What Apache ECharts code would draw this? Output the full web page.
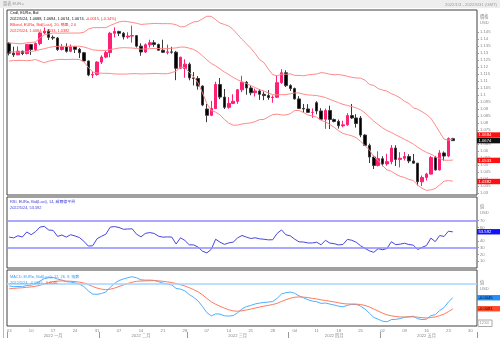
<!DOCTYPE html>
<html>
<head>
<meta charset="utf-8">
<title>EUR= 圖表</title>
<script src="https://cdn.jsdelivr.net/npm/echarts@6.0.0/dist/echarts.min.js"></script>
<style>
html,body{margin:0;padding:0;background:#fff;}
#chart{width:500px;height:340px;}
</style>
</head>
<body>
<div id="chart"></div>
<script>
// Weekday sessions on the category axis, 2022/1/3 - 2022/5/31
const sessionDates = [
  '2022/1/3','2022/1/4','2022/1/5','2022/1/6','2022/1/7','2022/1/10','2022/1/11','2022/1/12','2022/1/13','2022/1/14',
  '2022/1/17','2022/1/18','2022/1/19','2022/1/20','2022/1/21','2022/1/24','2022/1/25','2022/1/26','2022/1/27','2022/1/28','2022/1/31',
  '2022/2/1','2022/2/2','2022/2/3','2022/2/4','2022/2/7','2022/2/8','2022/2/9','2022/2/10','2022/2/11','2022/2/14',
  '2022/2/15','2022/2/16','2022/2/17','2022/2/18','2022/2/21','2022/2/22','2022/2/23','2022/2/24','2022/2/25','2022/2/28',
  '2022/3/1','2022/3/2','2022/3/3','2022/3/4','2022/3/7','2022/3/8','2022/3/9','2022/3/10','2022/3/11','2022/3/14',
  '2022/3/15','2022/3/16','2022/3/17','2022/3/18','2022/3/21','2022/3/22','2022/3/23','2022/3/24','2022/3/25','2022/3/28',
  '2022/3/29','2022/3/30','2022/3/31',
  '2022/4/1','2022/4/4','2022/4/5','2022/4/6','2022/4/7','2022/4/8','2022/4/11','2022/4/12','2022/4/13','2022/4/14',
  '2022/4/15','2022/4/18','2022/4/19','2022/4/20','2022/4/21','2022/4/22','2022/4/25','2022/4/26','2022/4/27','2022/4/28','2022/4/29',
  '2022/5/2','2022/5/3','2022/5/4','2022/5/5','2022/5/6','2022/5/9','2022/5/10','2022/5/11','2022/5/12','2022/5/13',
  '2022/5/16','2022/5/17','2022/5/18','2022/5/19','2022/5/20','2022/5/23','2022/5/24','2022/5/25','2022/5/26','2022/5/27',
  '2022/5/30','2022/5/31'
];

// Daily EUR= bid bars [open, high, low, close], 2022/1/3 - 2022/5/24
const dailyBars = [
  [1.1370,1.1376,1.1283,1.1299],[1.1299,1.1345,1.1272,1.1287],[1.1287,1.1347,1.1286,1.1313],[1.1313,1.1317,1.1285,1.1296],
  [1.1296,1.1364,1.1290,1.1360],[1.1360,1.1365,1.1286,1.1325],[1.1325,1.1376,1.1313,1.1367],[1.1367,1.1449,1.1355,1.1443],
  [1.1443,1.1482,1.1437,1.1456],[1.1456,1.1470,1.1393,1.1412],[1.1412,1.1426,1.1394,1.1407],[1.1407,1.1414,1.1315,1.1325],
  [1.1325,1.1365,1.1318,1.1343],[1.1343,1.1369,1.1303,1.1312],[1.1312,1.1361,1.1306,1.1344],[1.1344,1.1348,1.1300,1.1326],
  [1.1326,1.1336,1.1264,1.1302],[1.1302,1.1308,1.1236,1.1243],[1.1243,1.1246,1.1134,1.1143],[1.1143,1.1167,1.1121,1.1146],
  [1.1146,1.1241,1.1138,1.1235],
  [1.1235,1.1283,1.1221,1.1271],[1.1271,1.1316,1.1263,1.1303],[1.1303,1.1451,1.1269,1.1441],[1.1441,1.1483,1.1412,1.1454],
  [1.1454,1.1459,1.1421,1.1441],[1.1441,1.1450,1.1397,1.1415],[1.1415,1.1448,1.1402,1.1421],[1.1421,1.1495,1.1374,1.1424],
  [1.1424,1.1429,1.1339,1.1349],[1.1349,1.1369,1.1280,1.1307],[1.1307,1.1368,1.1300,1.1359],[1.1359,1.1395,1.1339,1.1373],
  [1.1373,1.1392,1.1344,1.1361],[1.1361,1.1367,1.1317,1.1320],[1.1320,1.1395,1.1302,1.1305],[1.1305,1.1360,1.1290,1.1308],
  [1.1308,1.1344,1.1295,1.1306],[1.1306,1.1315,1.1106,1.1191],[1.1191,1.1273,1.1186,1.1270],[1.1190,1.1255,1.1123,1.1220],
  [1.1220,1.1232,1.1105,1.1122],[1.1122,1.1164,1.1068,1.1118],[1.1118,1.1135,1.1038,1.1064],[1.1064,1.1068,1.0920,1.0929],
  [1.0900,1.0935,1.0806,1.0855],[1.0855,1.0958,1.0849,1.0903],[1.0903,1.1095,1.0900,1.1075],[1.1075,1.1121,1.0970,1.0985],
  [1.0985,1.1043,1.0900,1.0912],[1.0912,1.0985,1.0902,1.0940],[1.0940,1.1005,1.0935,1.0955],[1.0955,1.1043,1.0937,1.1037],
  [1.1037,1.1137,1.1020,1.1091],[1.1091,1.1100,1.1002,1.1050],[1.1050,1.1068,1.0998,1.1016],[1.1016,1.1046,1.0989,1.1029],
  [1.1029,1.1043,1.0965,1.1005],[1.1005,1.1025,1.0963,1.0996],[1.0996,1.1035,1.0966,1.0982],[1.0982,1.0997,1.0945,1.0984],
  [1.0984,1.1137,1.0980,1.1088],[1.1088,1.1184,1.1080,1.1159],[1.1159,1.1177,1.1057,1.1067],
  [1.1067,1.1077,1.1029,1.1046],[1.1046,1.1053,1.0968,1.0972],[1.0972,1.0992,1.0900,1.0904],[1.0904,1.0936,1.0874,1.0900],
  [1.0900,1.0935,1.0872,1.0876],[1.0876,1.0904,1.0837,1.0876],[1.0945,1.0956,1.0862,1.0886],[1.0886,1.0906,1.0822,1.0827],
  [1.0827,1.0903,1.0758,1.0889],[1.0889,1.0924,1.0757,1.0825],[1.0825,1.0832,1.0805,1.0811],[1.0811,1.0824,1.0760,1.0780],
  [1.0780,1.0816,1.0770,1.0787],[1.0787,1.0870,1.0781,1.0853],[1.0853,1.0936,1.0829,1.0836],[1.0836,1.0863,1.0767,1.0796],
  [1.0835,1.0850,1.0698,1.0714],[1.0714,1.0720,1.0636,1.0640],[1.0640,1.0653,1.0514,1.0557],[1.0557,1.0567,1.0471,1.0497],
  [1.0497,1.0598,1.0490,1.0545],
  [1.0545,1.0563,1.0491,1.0508],[1.0508,1.0580,1.0495,1.0524],[1.0524,1.0642,1.0505,1.0621],[1.0621,1.0641,1.0493,1.0540],
  [1.0540,1.0592,1.0483,1.0548],[1.0548,1.0593,1.0532,1.0561],[1.0561,1.0577,1.0513,1.0529],[1.0529,1.0579,1.0511,1.0513],
  [1.0513,1.0515,1.0354,1.0380],[1.0380,1.0425,1.0350,1.0411],[1.0411,1.0444,1.0389,1.0435],[1.0435,1.0563,1.0433,1.0553],
  [1.0553,1.0565,1.0460,1.0465],[1.0465,1.0606,1.0461,1.0586],[1.0586,1.0597,1.0531,1.0564],[1.0564,1.0697,1.0556,1.0689],
  [1.0688,1.0694,1.0674,1.0674]
];

// Closes of the sessions before 2022/1/3 (Nov-Dec 2021), only used to seed the studies
const seedCloses = [
  1.1607,1.1580,1.1610,1.1555,1.1568,1.1589,1.1592,1.1480,1.1446,1.1445,1.1368,1.1320,1.1318,1.1370,1.1290,
  1.1236,1.1234,1.1198,1.1209,1.1317,1.1291,1.1338,
  1.1320,1.1305,1.1316,1.1286,1.1266,1.1343,1.1292,1.1316,1.1285,1.1258,1.1288,1.1330,1.1239,1.1282,1.1283,
  1.1330,1.1326,1.1322,1.1327,1.1311,1.1349,1.1325,1.1370
];

// Axis tick values and labels
const priceTicks = [1.03,1.035,1.04,1.045,1.05,1.055,1.06,1.065,1.07,1.075,1.08,1.085,1.09,1.095,
  1.1,1.105,1.11,1.115,1.12,1.125,1.13,1.135,1.14,1.145];
const rsiTicks = [10, 20, 30, 40, 60, 70];
const rsiLevels = [70, 30];
const monthLabels = ['2022 一月', '2022 二月', '2022 三月', '2022 四月', '2022 五月'];

// Last study values shown in the legends and on the axis tags
const bandLast = [1.0684, 1.0533, 1.0382];
const rsiLast = 53.592;
const macdLast = [-0.0045, -0.0081];

const FONT = "'Liberation Sans','Noto Sans CJK TC',sans-serif";
const PINK = '#ff1f73';

// ---- studies computed from the closes ----
const closes = dailyBars.map(b => b[3]);
const allCloses = seedCloses.concat(closes);
const skip = seedCloses.length;

function bollinger(src, n, k) {
  const up = [], mid = [], low = [];
  for (let i = skip; i < src.length; i++) {
    const w = src.slice(i - n + 1, i + 1);
    const m = w.reduce((s, v) => s + v, 0) / n;
    const sd = Math.sqrt(w.reduce((s, v) => s + (v - m) * (v - m), 0) / n);
    up.push(m + k * sd); mid.push(m); low.push(m - k * sd);
  }
  return { up, mid, low };
}
function wilderRsi(src, n) {
  let ag = 0, al = 0;
  for (let i = 1; i <= n; i++) {
    const d = src[i] - src[i - 1];
    if (d > 0) ag += d; else al -= d;
  }
  ag /= n; al /= n;
  const out = [];
  for (let i = n + 1; i < src.length; i++) {
    const d = src[i] - src[i - 1];
    ag = (ag * (n - 1) + Math.max(d, 0)) / n;
    al = (al * (n - 1) + Math.max(-d, 0)) / n;
    out[i] = 100 - 100 / (1 + ag / al);
  }
  return out.slice(skip);
}
function ema(src, n) {
  const a = 2 / (n + 1), out = [src[0]];
  for (let i = 1; i < src.length; i++) out.push(out[i - 1] + a * (src[i] - out[i - 1]));
  return out;
}
const band = bollinger(allCloses, 20, 2);
const rsi = wilderRsi(allCloses, 14);
const e12 = ema(allCloses, 12), e26 = ema(allCloses, 26);
const macdAll = e12.map((v, i) => v - e26[i]);
const signalAll = ema(macdAll, 9);
const macd = macdAll.slice(skip), signal = signalAll.slice(skip);

// month boundaries for the lower date axis
const monthOf = d => +d.split('/')[1];
const monthStarts = sessionDates.map((d, i) => i === 0 || monthOf(d) !== monthOf(sessionDates[i - 1]) ? i : -1).filter(i => i >= 0);
const monthMids = monthStarts.map((s, k) => {
  const e = k + 1 < monthStarts.length ? monthStarts[k + 1] - 1 : sessionDates.length - 1;
  return Math.floor((s + e) / 2);
});

const chart = echarts.init(document.getElementById('chart'), null, { renderer: 'canvas' });

const gridBase = { left: 7, right: 23, show: true, borderColor: '#404040', borderWidth: 1, backgroundColor: '#fff' };
const hiddenX = gi => ({ type: 'category', gridIndex: gi, data: sessionDates, boundaryGap: true, show: false });
const axisText = { color: '#888', fontSize: 4.2, fontFamily: FONT };

chart.setOption({
  animation: false,
  backgroundColor: '#fff',
  grid: [
    Object.assign({ top: 10, height: 185 }, gridBase),
    Object.assign({ top: 197, height: 71 }, gridBase),
    Object.assign({ top: 270, height: 56 }, gridBase)
  ],
  xAxis: [
    hiddenX(0), hiddenX(1),
    {
      type: 'category', gridIndex: 2, data: sessionDates, boundaryGap: true,
      axisLine: { show: false }, axisTick: { show: false },
      axisLabel: Object.assign({
        margin: 3,
        interval: (i, v) => new Date(v).getDay() === 1,
        formatter: v => ('0' + v.split('/')[2]).slice(-2)
      }, axisText)
    },
    {
      type: 'category', gridIndex: 2, data: sessionDates, boundaryGap: true, position: 'bottom', offset: 6,
      axisLine: { show: false },
      axisTick: { show: true, length: 6, interval: i => monthStarts.includes(i), lineStyle: { color: '#999', width: 1 } },
      axisLabel: Object.assign({
        margin: 2,
        interval: i => monthMids.includes(i),
        formatter: v => monthLabels[monthOf(v) - 1]
      }, axisText)
    }
  ],
  yAxis: [
    {
      type: 'value', gridIndex: 0, position: 'right', min: 1.028571, max: 1.160714, scale: true,
      splitLine: { show: false }, axisLine: { show: false },
      axisTick: { show: true, length: 2, customValues: priceTicks, lineStyle: { color: '#999' } },
      axisLabel: Object.assign({ margin: 3, customValues: priceTicks, formatter: v => String(+v.toFixed(3)) }, axisText)
    },
    {
      type: 'value', gridIndex: 1, position: 'right', min: 0, max: 105,
      splitLine: { show: false }, axisLine: { show: false },
      axisTick: { show: true, length: 2, customValues: rsiTicks, lineStyle: { color: '#999' } },
      axisLabel: Object.assign({ margin: 3, customValues: rsiTicks }, axisText)
    },
    {
      type: 'value', gridIndex: 2, position: 'right', min: -0.01375, max: 0.00458,
      splitLine: { show: false }, axisLine: { show: false }, axisTick: { show: false }, axisLabel: { show: false }
    }
  ],
  series: [
    {
      type: 'line', xAxisIndex: 0, yAxisIndex: 0, data: band.up, symbol: 'none', silent: true,
      lineStyle: { color: '#ff8a8a', width: 1 }
    },
    {
      type: 'line', xAxisIndex: 0, yAxisIndex: 0, data: band.mid, symbol: 'none', silent: true,
      lineStyle: { color: '#ff8a8a', width: 1 }
    },
    {
      type: 'line', xAxisIndex: 0, yAxisIndex: 0, data: band.low, symbol: 'none', silent: true,
      lineStyle: { color: '#ff8a8a', width: 1 }
    },
    {
      type: 'candlestick', xAxisIndex: 0, yAxisIndex: 0, barWidth: 3, silent: true,
      data: dailyBars.map(b => [b[0], b[3], b[2], b[1]]),
      itemStyle: { color: PINK, color0: '#000', borderColor: PINK, borderColor0: '#3a3a3a', borderWidth: 1 }
    },
    {
      type: 'line', xAxisIndex: 1, yAxisIndex: 1, data: rsi, symbol: 'none', silent: true,
      lineStyle: { color: '#4646e0', width: 1 },
      markLine: {
        silent: true, symbol: ['none', 'none'], label: { show: false },
        lineStyle: { color: '#8c8cff', width: 1.5, type: 'solid' },
        data: rsiLevels.map(v => ({ yAxis: v }))
      }
    },
    {
      type: 'line', xAxisIndex: 2, yAxisIndex: 2, data: macd, symbol: 'none', silent: true,
      lineStyle: { color: '#4db0ff', width: 1 },
      markLine: {
        silent: true, symbol: ['none', 'none'], label: { show: false },
        lineStyle: { color: '#a6d4ff', width: 1.5, type: 'solid' },
        data: [{ yAxis: 0 }]
      }
    },
    {
      type: 'line', xAxisIndex: 2, yAxisIndex: 2, data: signal, symbol: 'none', silent: true,
      lineStyle: { color: '#ff7a5e', width: 1 }
    }
  ]
});

// ---- texts, axis titles and value tags ----
const last = dailyBars[dailyBars.length - 1];
const prevClose = dailyBars[dailyBars.length - 2][3];
const chg = last[3] - prevClose;
const f4 = v => v.toFixed(4);
const legendFont = 3.9;

function txt(x, y, text, fill, extra) {
  return Object.assign({
    type: 'text', x, y, z: 100,
    style: Object.assign({ text, fill, fontSize: legendFont, fontFamily: FONT, verticalAlign: 'middle' }, extra || {})
  });
}
function rich(x, y, parts) {
  const r = {}; let s = '';
  parts.forEach((p, k) => { r['p' + k] = { fill: p[1], fontSize: legendFont, fontFamily: FONT }; s += '{p' + k + '|' + p[0] + '}'; });
  return { type: 'text', x, y, z: 100, style: { text: s, rich: r, fontSize: legendFont, fontFamily: FONT, verticalAlign: 'middle' } };
}
function tag(axis, value, text, bg, fg, dy) {
  const y = chart.convertToPixel({ yAxisIndex: axis }, value) + (dy || 0);
  return [
    { type: 'rect', z: 110, shape: { x: 477, y: y - 2.7, width: 23, height: 5.4 }, style: { fill: bg } },
    { type: 'text', z: 111, x: 478.5, y, style: { text, fill: fg, fontSize: 4.2, fontFamily: FONT, verticalAlign: 'middle' } }
  ];
}

const closeY = chart.convertToPixel({ yAxisIndex: 0 }, last[3]);
const upY = chart.convertToPixel({ yAxisIndex: 0 }, bandLast[0]);
const upShift = Math.min(0, closeY - 5.6 - upY);

const g = [
  { type: 'rect', z: 90, shape: { x: 0, y: 0, width: 500, height: 8 }, style: { fill: '#eeeeee' } },
  { type: 'line', z: 90, shape: { x1: 3.5, y1: 8, x2: 3.5, y2: 338 }, style: { stroke: '#b8b8b8', lineWidth: 1 } },
  txt(3, 4.2, '圖表 EUR=', '#9a9a9a', { fontSize: 4.2 }),
  txt(497, 4.6, sessionDates[0] + ' - ' + sessionDates[sessionDates.length - 1] + ' (GMT)', '#9a9a9a', { fontSize: 4.2, align: 'right' }),

  txt(10, 12.5, 'Cndl, EUR=, Bid', '#111'),
  rich(10, 18.5, [[sessionDates[dailyBars.length - 1] + ', ' + last.map(f4).join(', ') + ', ', '#111'],
                  [f4(chg) + ', (' + (chg / prevClose * 100).toFixed(2) + '%)', '#ff2020']]),
  txt(10, 24.5, 'BBand, EUR=, Bid(Last), 20, 簡單, 2.0', '#ff3030'),
  txt(10, 30.5, sessionDates[dailyBars.length - 1] + ', ' + bandLast.map(f4).join(', '), '#ff3030'),

  txt(10, 201.5, 'RSI, EUR=, Bid(Last), 14, 威爾德平滑', '#3c3cd8'),
  txt(10, 207.5, sessionDates[dailyBars.length - 1] + ', ' + rsiLast.toFixed(3), '#3c3cd8'),

  txt(10, 277, 'MACD, EUR=, Bid(Last), 12, 26, 9, 指數', '#3a9cf5'),
  rich(10, 283, [[sessionDates[dailyBars.length - 1] + ', ', '#3a9cf5'], [f4(macdLast[0]) + ', ', '#3a9cf5'], [f4(macdLast[1]), '#ff4a2a']]),

  txt(480, 17, '價格', '#888', { fontSize: 4.2 }),
  txt(480, 23, 'USD', '#888', { fontSize: 4.2 }),
  txt(480, 207, '值', '#888', { fontSize: 4.2 }),
  txt(480, 212.5, 'USD', '#888', { fontSize: 4.2 }),
  txt(480, 283, '值', '#888', { fontSize: 4.2 }),
  txt(480, 289, 'USD', '#888', { fontSize: 4.2 }),

  { type: 'rect', z: 100, shape: { x: 478, y: 320, width: 14, height: 6.5 }, style: { fill: '#fff', stroke: '#aaa', lineWidth: 1 } },
  txt(479.5, 323.3, '1234', '#999', { fontSize: 4.2 })
].concat(
  tag(0, bandLast[0], f4(bandLast[0]), '#ff1010', '#fff', upShift),
  tag(0, last[3], f4(last[3]), '#111', '#fff'),
  tag(0, bandLast[1], f4(bandLast[1]), '#ff1010', '#fff'),
  tag(0, bandLast[2], f4(bandLast[2]), '#ff1010', '#fff'),
  tag(1, rsiLast, rsiLast.toFixed(3), '#1010ff', '#fff'),
  tag(2, macdLast[0], f4(macdLast[0]), '#1e90ff', '#111'),
  tag(2, macdLast[1], f4(macdLast[1]), '#ff4a2a', '#111')
);

chart.setOption({ graphic: g });
</script>
</body>
</html>
